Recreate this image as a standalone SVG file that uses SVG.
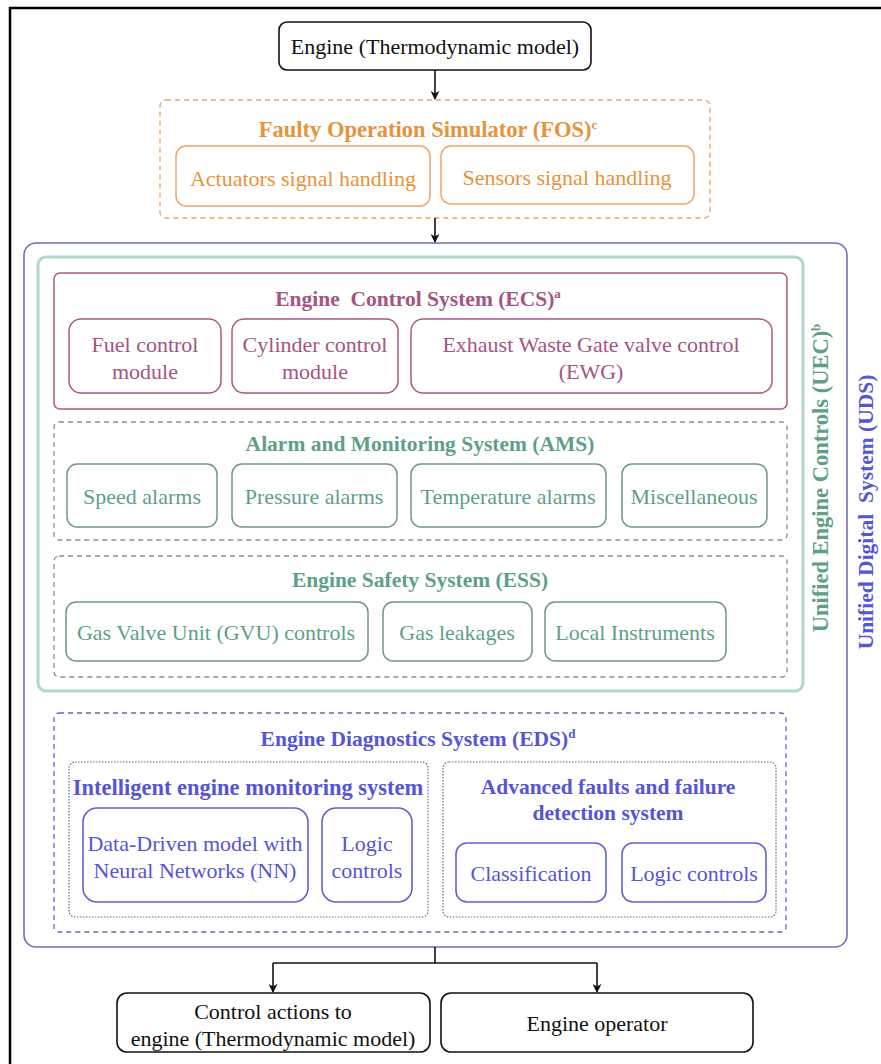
<svg xmlns="http://www.w3.org/2000/svg" width="881" height="1064" viewBox="0 0 881 1064">
  <defs>
    <marker id="arrow" viewBox="0 0 10 10" refX="9" refY="5" markerWidth="9" markerHeight="9" markerUnits="userSpaceOnUse" orient="auto">
      <path d="M0,0 L10,5 L0,10 L3,5 Z" fill="#111"/>
    </marker>
    <style>
      text { font-family: "Liberation Serif", "Times New Roman", serif; text-anchor: middle; white-space: pre; }
      .t { font-size: 22px; }
      .h { font-size: 21.5px; font-weight: bold; }
      .hl { font-size: 22.5px; font-weight: bold; }
      .sup { font-size: 13px; }
      .black rect { fill: #fff; stroke: #111; stroke-width: 1.6; }
      .black text { fill: #111; }
      .orange { fill: #E8923C; }
      .ob { fill: #fff; stroke: #EFA466; stroke-width: 1.5; }
      .pink { fill: #A45580; }
      .pb { fill: #fff; stroke: #AC5A84; stroke-width: 1.5; }
      .teal { fill: #5E9F88; }
      .tb { fill: #fff; stroke: #6E968A; stroke-width: 1.5; }
      .tdash { fill: none; stroke: #7E9690; stroke-width: 1.3; stroke-dasharray: 5 4; }
      .blue { fill: #5555D6; }
      .bb { fill: #fff; stroke: #6161D0; stroke-width: 1.6; }
      .bdot { fill: none; stroke: #6A6A9A; stroke-width: 1.2; stroke-dasharray: 1.5 1.5; }
      .conn { fill: none; stroke: #111; stroke-width: 1.6; }
    </style>
  </defs>

  <rect width="881" height="1064" fill="#fff"/>
  <!-- page frame (top and left edges) -->
  <path d="M10,1064 V8 H881" fill="none" stroke="#000" stroke-width="2.5"/>

  <!-- top input -->
  <g id="engine" class="black">
    <rect x="279" y="22" width="312" height="48" rx="8"/>
    <text class="t" x="435" y="54">Engine (Thermodynamic model)</text>
  </g>

  <!-- Faulty Operation Simulator -->
  <g id="fos">
    <rect x="160" y="100" width="550" height="118" rx="6" fill="none" stroke="#EDA35E" stroke-width="1.3" stroke-dasharray="5 4"/>
    <text class="hl orange" x="428" y="137">Faulty Operation Simulator (FOS)<tspan class="sup" dy="-8">c</tspan></text>
    <rect class="ob" x="176" y="146" width="254" height="60" rx="10"/>
    <text class="t orange" x="303" y="186">Actuators signal handling</text>
    <rect class="ob" x="441" y="146" width="253" height="58" rx="10"/>
    <text class="t orange" x="567" y="185">Sensors signal handling</text>
  </g>

  <!-- Unified Digital System -->
  <g id="uds">
    <rect x="24" y="243" width="823" height="704" rx="12" fill="none" stroke="#6E6EC6" stroke-width="1.6"/>
    <text class="h blue" transform="translate(873,512) rotate(-90)">Unified Digital  System (UDS)</text>
  </g>

  <!-- Unified Engine Controls -->
  <g id="uec">
    <rect x="38" y="257" width="765" height="434" rx="8" fill="none" stroke="#B2D6CE" stroke-width="3"/>
    <text class="hl teal" transform="translate(828,478) rotate(-90)">Unified Engine Controls (UEC)<tspan class="sup" dy="-8">b</tspan></text>
  </g>

  <!-- Engine Control System -->
  <g id="ecs">
    <rect x="54" y="273" width="733" height="136" rx="6" fill="none" stroke="#AC5A84" stroke-width="1.5"/>
    <text class="h pink" x="418" y="306">Engine  Control System (ECS)<tspan class="sup" dy="-8">a</tspan></text>
    <rect class="pb" x="69" y="319" width="152" height="74" rx="12"/>
    <text class="t pink" x="145" y="352">Fuel control</text>
    <text class="t pink" x="145" y="379">module</text>
    <rect class="pb" x="232" y="319" width="166" height="74" rx="12"/>
    <text class="t pink" x="315" y="352">Cylinder control</text>
    <text class="t pink" x="315" y="379">module</text>
    <rect class="pb" x="411" y="319" width="361" height="74" rx="12"/>
    <text class="t pink" x="591" y="352">Exhaust Waste Gate valve control</text>
    <text class="t pink" x="591" y="379">(EWG)</text>
  </g>

  <!-- Alarm and Monitoring System -->
  <g id="ams">
    <rect class="tdash" x="54" y="422" width="733" height="118" rx="5"/>
    <text class="h teal" x="420" y="451">Alarm and Monitoring System (AMS)</text>
    <rect class="tb" x="67" y="464" width="150" height="63" rx="10"/>
    <text class="t teal" x="142" y="504">Speed alarms</text>
    <rect class="tb" x="232" y="464" width="165" height="63" rx="10"/>
    <text class="t teal" x="314" y="504">Pressure alarms</text>
    <rect class="tb" x="411" y="464" width="195" height="63" rx="10"/>
    <text class="t teal" x="508" y="504">Temperature alarms</text>
    <rect class="tb" x="622" y="464" width="145" height="63" rx="10"/>
    <text class="t teal" x="694" y="504">Miscellaneous</text>
  </g>

  <!-- Engine Safety System -->
  <g id="ess">
    <rect class="tdash" x="54" y="556" width="733" height="121" rx="5"/>
    <text class="h teal" x="420" y="587">Engine Safety System (ESS)</text>
    <rect class="tb" x="66" y="602" width="302" height="59" rx="10"/>
    <text class="t teal" x="216" y="640">Gas Valve Unit (GVU) controls</text>
    <rect class="tb" x="383" y="602" width="149" height="59" rx="10"/>
    <text class="t teal" x="457" y="640">Gas leakages</text>
    <rect class="tb" x="545" y="602" width="181" height="59" rx="10"/>
    <text class="t teal" x="635" y="640">Local Instruments</text>
  </g>

  <!-- Engine Diagnostics System -->
  <g id="eds">
    <rect x="54" y="713" width="732" height="219" rx="5" fill="none" stroke="#6464D2" stroke-width="1.3" stroke-dasharray="5 4"/>
    <text class="h blue" x="418" y="746">Engine Diagnostics System (EDS)<tspan class="sup" dy="-8">d</tspan></text>
  </g>

  <g id="iems">
    <rect class="bdot" x="69" y="762" width="359" height="155" rx="6"/>
    <text class="hl blue" x="248" y="795">Intelligent engine monitoring system</text>
    <rect class="bb" x="83" y="808" width="225" height="94" rx="14"/>
    <text class="t blue" x="195" y="851">Data-Driven model with</text>
    <text class="t blue" x="195" y="878">Neural Networks (NN)</text>
    <rect class="bb" x="322" y="808" width="90" height="94" rx="14"/>
    <text class="t blue" x="367" y="851">Logic</text>
    <text class="t blue" x="367" y="878">controls</text>
  </g>

  <g id="affds">
    <rect class="bdot" x="443" y="762" width="333" height="155" rx="6"/>
    <text class="h blue" x="608" y="794">Advanced faults and failure</text>
    <text class="h blue" x="608" y="820">detection system</text>
    <rect class="bb" x="456" y="843" width="150" height="59" rx="11"/>
    <text class="t blue" x="531" y="881">Classification</text>
    <rect class="bb" x="622" y="843" width="144" height="59" rx="11"/>
    <text class="t blue" x="694" y="881">Logic controls</text>
  </g>

  <!-- outputs -->
  <g id="control-actions" class="black">
    <rect x="117" y="993" width="313" height="59" rx="10"/>
    <text class="t" x="273" y="1019">Control actions to</text>
    <text class="t" x="273" y="1046">engine (Thermodynamic model)</text>
  </g>
  <g id="engine-operator" class="black">
    <rect x="441" y="993" width="312" height="59" rx="10"/>
    <text class="t" x="597" y="1031">Engine operator</text>
  </g>

  <!-- connectors -->
  <g id="connectors">
    <path class="conn" d="M435,70 V99" marker-end="url(#arrow)"/>
    <path class="conn" d="M435,218 V242" marker-end="url(#arrow)"/>
    <path class="conn" d="M435,947 V963"/>
    <path class="conn" d="M273,963 H597"/>
    <path class="conn" d="M273,963 V992" marker-end="url(#arrow)"/>
    <path class="conn" d="M597,963 V992" marker-end="url(#arrow)"/>
  </g>
</svg>
